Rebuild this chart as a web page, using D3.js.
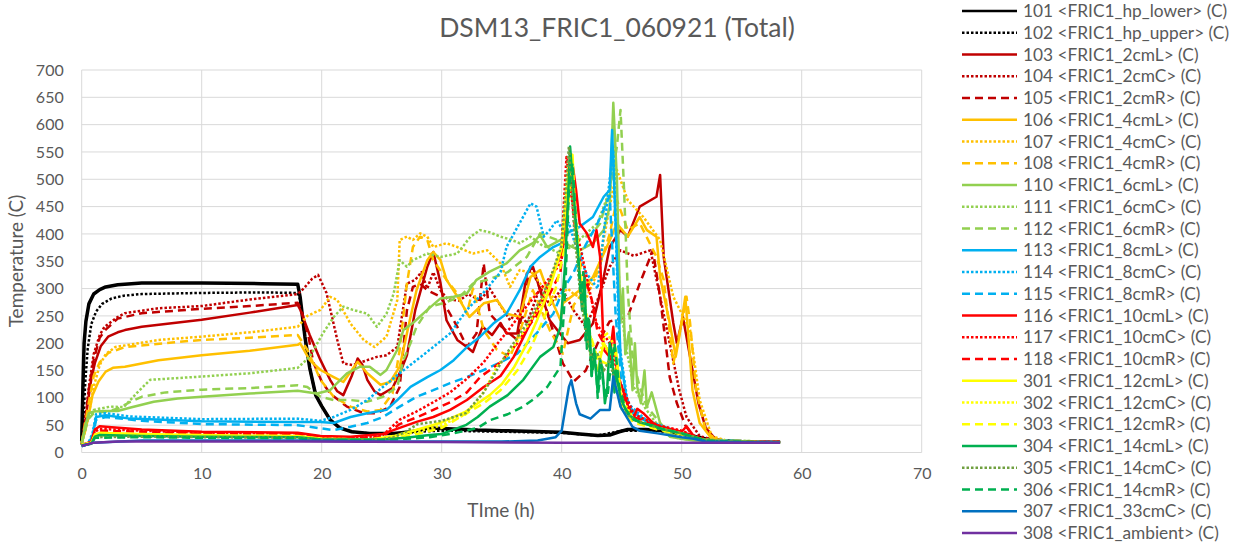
<!DOCTYPE html>
<html>
<head>
<meta charset="utf-8">
<script src="https://cdn.jsdelivr.net/npm/d3@7"></script>
<style>
  body { margin: 0; background: #fff; }
  text { font-family: Lato, "Open Sans", sans-serif; fill: #595959; }
</style>
</head>
<body>
<div id="chart"></div>
<script>
// chart size and plot box
const svgWidth = 1237;
const svgHeight = 543;
const plot = { left: 81.7, right: 921.7, top: 70, bottom: 452.5 };

// axis ticks
const xTicks = [0, 10, 20, 30, 40, 50, 60, 70];
const yTicks = [0, 50, 100, 150, 200, 250, 300, 350, 400, 450, 500, 550, 600, 650, 700];

// series values, [hour, temperature]
const s101 = [[0,20],[0.1,120],[0.2,200],[0.35,240],[0.6,272],[1,290],[1.5,298],[2,303],[3,307],[5,310],[10,310],[15,309],[18,308],[18.2,285],[18.6,212],[19,155],[19.5,105],[20,85],[20.7,60],[21.5,45],[22.5,38],[24,35],[26,35],[27.5,38],[29,45],[31,43],[33,41],[35,40],[37,39],[40,37],[41.5,34],[43,31],[44,32],[44.8,38],[45.5,42],[47,42],[48.5,40],[50,34],[51,30],[52,25],[53,22],[55,20],[58.2,19]];
const s102 = [[0,14],[0.15,60],[0.3,130],[0.5,190],[0.8,235],[1.2,258],[1.7,272],[2.5,282],[3.5,287],[5,290],[10,292],[15,293],[18,292],[18.2,280],[18.6,212],[19,155],[19.5,105],[20,85],[20.7,60],[21.5,45],[22.5,38],[24,35],[26,34],[28,38],[30,40],[35,38],[40,36],[43,31],[45,40],[48,40],[50,33],[52,24],[54,20],[58.2,19]];
const s103 = [[0,18],[0.2,40],[0.5,90],[0.8,135],[1.1,164],[1.6,195],[2.2,212],[3,220],[3.6,224],[5,230],[10,243],[14,256],[18,270],[18.2,262],[19,215],[19.9,169],[20.7,133],[21.3,112],[21.8,105],[22.5,140],[23,172],[23.4,160],[23.8,133],[24.4,112],[24.9,105],[25.9,118],[26.6,150],[27.1,178],[27.8,261],[28.8,340],[29.3,367],[29.9,310],[30.4,242],[31.3,206],[32.1,193],[32.6,184],[33.4,230],[34.2,215],[34.9,237],[35.4,218],[36.3,218],[37.1,328],[37.6,340],[38.2,297],[39,242],[40.1,211],[40.5,200],[41.5,206],[42.6,236],[43.5,321],[44,376],[44.9,407],[45.5,395],[46.5,450],[47.9,468],[48.2,508],[48.5,358],[49.3,237],[49.6,200],[50.1,248],[50.7,175],[51.4,90],[52,45],[52.8,25],[54,20],[58.2,19]];
const s104 = [[0,16],[0.3,60],[0.6,120],[1,180],[1.5,215],[1.9,230],[3,248],[3.6,255],[6.4,264],[10,268],[14,280],[18,290],[18.5,300],[19.2,318],[19.7,325],[20.4,292],[21.3,206],[21.8,163],[22.6,160],[23.8,169],[24.6,175],[25.4,178],[26.3,193],[26.8,266],[27.1,309],[27.8,316],[28.3,330],[28.8,300],[29.3,330],[29.9,297],[30.5,280],[31.5,278],[32.2,290],[33.2,278],[34,300],[34.6,279],[35.7,242],[36.4,260],[37.1,236],[38.2,303],[39,270],[40,300],[41,260],[42,230],[43,280],[44,340],[44.9,370],[46,360],[47.4,370],[48.2,285],[49,200],[49.8,114],[50.4,65],[51.5,30],[53,21],[58.2,19]];
const s105 = [[0,16],[0.3,60],[0.6,115],[1,170],[1.5,210],[2,225],[3,245],[5,255],[10,263],[14,268],[18,274],[18.3,262],[18.9,212],[19.3,165],[20,130],[20.7,108],[22.1,84],[23.5,72],[24.6,72],[25.7,84],[26.5,120],[27.1,260],[27.6,303],[28.2,309],[28.8,297],[29.9,285],[31.3,230],[32.1,193],[32.9,218],[33.5,346],[34,254],[35,230],[36.3,206],[37.4,340],[38.2,300],[39,242],[40.1,163],[41,130],[42,150],[43,200],[44,240],[45.5,248],[46.5,309],[47.6,370],[48.2,285],[49,138],[49.6,90],[50.3,50],[51,28],[52,21],[58.2,19]];
const s106 = [[0,18],[0.3,40],[0.6,70],[0.9,105],[1.4,130],[2,148],[2.6,155],[3.6,157],[6.4,169],[10,178],[14,186],[18,197],[18.2,200],[19,169],[19.9,151],[21,138],[21.8,129],[23,166],[23.8,145],[24.9,124],[25.7,129],[26.5,157],[27.1,218],[27.9,297],[28.8,352],[29.3,367],[29.9,352],[30.4,316],[31.5,279],[32.3,248],[33.5,273],[34.6,279],[35.4,254],[36.5,248],[37.4,321],[38.2,334],[38.8,297],[39.9,242],[40.1,273],[41.5,297],[42.6,321],[44,388],[44.6,419],[45.5,395],[46.5,431],[47.1,407],[47.9,395],[48.2,321],[49,237],[49.5,175],[49.8,212],[50.3,285],[50.6,200],[50.9,114],[51.5,54],[52.5,25],[54,20],[58.2,19]];
const s107 = [[0,17],[0.5,60],[1,120],[1.5,160],[2,180],[2.8,193],[6.4,206],[10,212],[14,220],[18,230],[18.8,250],[19.9,261],[20.7,285],[21.3,279],[22.4,236],[23.5,206],[24.4,193],[25.4,212],[26.3,279],[26.5,389],[27.1,395],[27.6,389],[28.2,401],[28.8,395],[29.3,376],[30.4,383],[31.3,376],[32.6,364],[33.8,370],[34.9,346],[35.7,303],[36.5,334],[37.6,328],[38.5,300],[39.5,280],[40.5,300],[41,290],[42,280],[43,330],[44,450],[44.6,517],[45.5,462],[46.8,431],[48.2,389],[49.3,285],[50.7,224],[51.5,96],[52.5,30],[54,20],[58.2,19]];
const s108 = [[0,17],[0.5,80],[1,140],[1.5,165],[2.2,182],[3.6,193],[7.8,202],[10,206],[14,210],[18,215],[18.3,205],[18.8,188],[19.9,133],[21,102],[22.4,84],[23.8,75],[24.9,78],[25.9,108],[26.5,188],[27.1,309],[27.6,376],[28.2,395],[28.8,389],[29.3,352],[30.4,316],[31.3,291],[32.1,254],[32.6,300],[33.5,224],[34.6,188],[35.7,175],[36.5,220],[37.6,297],[38.3,260],[39,224],[40.1,181],[41,270],[42,300],[43,330],[44,400],[44.6,462],[45.5,407],[46.5,420],[47.9,358],[48.5,316],[49.3,163],[50,237],[50.4,285],[50.7,237],[51.2,114],[52,40],[53,20],[58.2,19]];
const s110 = [[0,18],[0.3,50],[0.6,72],[1,75],[2,76],[3,76],[4,82],[6,93],[8,99],[10,102],[14,108],[18,113],[19.6,108],[20.7,114],[22.1,145],[23.2,157],[24,157],[24.9,142],[25.4,151],[26.3,188],[26.8,224],[27.6,237],[28.8,261],[29.9,282],[31,285],[32.1,291],[32.9,316],[34,331],[35.4,346],[36.5,370],[37.6,383],[38.2,398],[38.8,376],[39.9,389],[40.5,380],[41.5,370],[42.6,383],[43.5,407],[44,450],[44.3,640],[44.6,500],[44.9,237],[45.1,300],[45.3,180],[45.6,220],[45.9,114],[46.1,200],[46.3,120],[46.6,90],[46.9,150],[47.1,84],[47.5,110],[48.2,54],[49,29],[50,25],[51,22],[58.2,19]];
const s111 = [[0,16],[0.5,60],[1,78],[2.4,84],[3.5,83],[4.6,109],[5.7,133],[10,139],[14,145],[18,155],[19,175],[20.1,218],[21,248],[21.8,267],[22.6,261],[23.8,254],[24.6,230],[25.4,254],[26,291],[26.5,352],[27.1,340],[27.6,352],[28.8,364],[29.9,358],[31.3,364],[32.4,395],[33.2,407],[34,403],[34.9,395],[35.7,390],[36.5,383],[37.4,395],[38.3,380],[39.9,364],[41,380],[42,400],[43,420],[44,480],[44.4,560],[44.8,300],[45.3,200],[46,120],[47,80],[48,50],[49,30],[50,25],[58.2,19]];
const s112 = [[0,16],[0.5,60],[1,72],[2,75],[3,80],[4,92],[5,102],[7,110],[10,115],[14,118],[18,123],[18.8,120],[19.9,102],[21,96],[22.4,96],[23.8,93],[25.1,102],[26.3,120],[26.8,169],[27.4,200],[27.9,230],[29,267],[30.1,273],[31.5,285],[32.6,309],[33.8,316],[35.5,330],[37.1,358],[38.2,401],[39.5,390],[40.5,380],[41.5,390],[42.5,400],[43.2,419],[44,480],[44.6,560],[44.9,627],[45.2,480],[45.5,297],[45.9,175],[46.5,120],[47.1,84],[48.2,54],[49,35],[50,25],[58.2,19]];
const s113 = [[0,12],[0.5,15],[0.9,30],[1.2,65],[2,68],[4,62],[10,57],[18,56],[19.9,56],[21,54],[22.4,65],[23.8,72],[25.4,78],[26.3,96],[27.4,120],[28.8,138],[29.9,151],[31,169],[32.1,193],[33.2,212],[34.3,236],[35.4,254],[36.5,297],[37.4,340],[38.2,358],[39.3,376],[40,383],[40.4,401],[41.5,413],[42.6,431],[43.5,468],[44,480],[44.2,590],[44.6,358],[44.9,175],[45.5,84],[46.5,65],[48.2,47],[50,35],[51,30],[52,22],[54,20],[58.2,19]];
const s114 = [[0,12],[0.5,15],[0.9,35],[1.2,70],[2,72],[4,66],[10,61],[18,62],[19.9,58],[21,65],[22.4,78],[23.8,96],[25.1,120],[26.5,145],[27.9,169],[29.3,193],[30.7,218],[32.1,261],[33.5,293],[34.9,330],[35.4,376],[36.5,420],[37.4,456],[37.9,450],[38.5,395],[39,407],[39.6,425],[40.1,407],[40.6,420],[41,390],[42,330],[43,300],[44,500],[44.3,550],[44.8,200],[45.5,90],[47,60],[50,35],[52,22],[58.2,19]];
const s115 = [[0,12],[0.5,15],[0.9,28],[1.2,60],[2,65],[5,58],[10,52],[18,50],[19,47],[21,41],[22.4,47],[23.8,54],[25.1,65],[26.5,84],[27.9,102],[29.3,114],[30.7,127],[32.1,138],[33.5,151],[34.9,165],[36.3,181],[37.9,218],[39.3,254],[40.1,297],[41,330],[42,380],[43,420],[44,470],[44.5,250],[45,120],[46,70],[48,45],[50,35],[52,22],[58.2,19]];
const s116 = [[0,14],[0.8,20],[1.1,42],[1.5,48],[2.5,46],[5,42],[10,38],[18,36],[19.9,30],[22.4,29],[25.1,34],[26.5,45],[27.9,56],[29.3,65],[30.7,78],[32.1,96],[33.5,120],[34.9,140],[36,175],[37.1,224],[38.2,273],[39.3,328],[40.1,376],[40.5,486],[40.8,545],[41.2,480],[41.5,419],[42.1,401],[42.6,376],[42.9,407],[43.2,358],[43.5,188],[44,175],[44.3,230],[44.6,145],[45.1,114],[45.9,59],[46.3,80],[46.8,72],[47.6,54],[48.2,47],[50,38],[50.4,48],[51,30],[52,22],[54,20],[58.2,19]];
const s117 = [[0,14],[0.8,18],[1.1,38],[1.5,43],[5,40],[10,36],[18,35],[20,28],[22,27],[25,30],[26.5,60],[27.9,75],[29.3,92],[30.7,110],[32.1,135],[33.5,165],[34.6,198],[35.7,228],[36.8,260],[37.9,290],[39,320],[39.9,346],[40.4,541],[40.8,470],[41.3,400],[42,330],[42.9,236],[44,200],[44.9,127],[46,70],[48,50],[50,40],[52,22],[54,20],[58.2,19]];
const s118 = [[0,14],[0.8,18],[1.1,36],[1.5,40],[5,38],[10,34],[18,33],[20,27],[22,26],[25,28],[26.5,52],[28,65],[29.3,78],[30.7,92],[32.1,110],[33.2,138],[34.9,165],[36.3,200],[37.2,230],[37.9,250],[39,290],[39.9,330],[40.4,450],[40.7,520],[41,430],[41.5,350],[42.5,280],[43,220],[44,180],[44.9,110],[46,65],[48,48],[50,38],[52,22],[54,20],[58.2,19]];
const s301 = [[0,14],[0.8,18],[1.1,33],[1.5,36],[5,34],[10,32],[18,30],[20,25],[24,24],[26,30],[28,42],[30,55],[32,75],[34,105],[35,125],[36,155],[37,195],[38,245],[39,300],[40,375],[40.6,520],[40.9,545],[41.2,400],[41.6,300],[42,240],[42.5,170],[43,150],[43.5,200],[44,180],[44.5,190],[45,90],[46,60],[48,45],[50,35],[52,22],[54,20],[58.2,18]];
const s302 = [[0,14],[0.8,18],[1.1,31],[5,32],[10,30],[18,29],[20,25],[24,24],[26,28],[28,38],[30,50],[32,70],[33.5,110],[34.6,157],[36,193],[37.1,230],[38,262],[39,310],[40,380],[40.6,530],[41,450],[41.5,320],[42,260],[42.5,200],[43,170],[43.7,220],[44.3,200],[45,100],[46,60],[48,45],[50,34],[52,22],[54,20],[58.2,18]];
const s303 = [[0,14],[0.8,18],[1.1,30],[5,31],[10,29],[18,28],[20,24],[24,23],[26,26],[28,34],[30,45],[32.1,72],[33.5,90],[34.9,114],[36.3,150],[37.5,195],[38.5,245],[39.5,300],[40.3,380],[40.8,520],[41.2,430],[41.7,300],[42.2,230],[43,170],[44,160],[44.5,150],[45,80],[46,55],[48,42],[50,33],[52,22],[54,20],[58.2,18]];
const s304 = [[0,13],[0.8,16],[1.1,29],[1.5,32],[5,30],[10,29],[18,28],[20,24],[25,24],[27,27],[29,32],[30,34],[32,50],[33,65],[34,84],[35.5,105],[36.8,133],[38.2,175],[39.3,193],[39.9,230],[40.3,350],[40.5,450],[40.7,560],[41,470],[41.3,380],[41.7,260],[41.9,320],[42.1,190],[42.3,240],[42.5,140],[42.7,190],[43,110],[43.2,170],[43.4,150],[43.6,90],[43.8,120],[44,200],[44.2,180],[44.4,110],[44.5,150],[44.9,100],[45.5,70],[46.5,55],[47.5,50],[48.5,42],[50,35],[52,22],[54,20],[58.2,18]];
const s305 = [[0,13],[0.8,16],[1.1,28],[5,29],[10,28],[18,27],[20,24],[25,24],[26,28],[27,38],[28,52],[30,58],[32,72],[33.5,110],[35.4,181],[37.1,236],[38.2,279],[39,316],[40,380],[40.6,560],[41,420],[41.5,300],[42,220],[42.5,170],[43,180],[43.5,150],[44,170],[44.5,120],[45,80],[46,60],[48,45],[50,35],[52,22],[54,20],[58.2,18]];
const s306 = [[0,13],[0.8,16],[1.1,27],[5,28],[10,27],[18,26],[20,23],[25,23],[27,25],[29,28],[31,35],[33,45],[34,59],[35.5,70],[36.8,84],[37.8,100],[38.8,120],[39.9,157],[40.3,300],[40.6,480],[40.9,530],[41.2,420],[41.6,280],[41.8,330],[42,200],[42.2,250],[42.5,140],[42.8,180],[43,100],[43.3,160],[43.5,120],[43.8,100],[44,140],[44.4,200],[44.8,120],[45.3,80],[46,60],[48,45],[50,35],[52,22],[54,20],[58.2,18]];
const s307 = [[0,12],[1,18],[5,22],[18,22],[25,20],[30,20],[35,20],[38,22],[39.5,28],[40,40],[40.3,80],[40.6,120],[40.8,132],[41.2,90],[41.5,70],[42.4,62],[43.2,78],[44,78],[44.3,139],[44.9,84],[45.9,47],[46.5,40],[48,35],[50,28],[51,25],[52,20],[58.2,18]];
const s308 = [[0,12],[0.5,15],[1,18],[3,20],[18,20],[30,19],[40,18],[50,18],[58.2,18]];

// legend names, same order as the series
const seriesNames = ["101 <FRIC1_hp_lower> (C)", "102 <FRIC1_hp_upper> (C)", "103 <FRIC1_2cmL> (C)", "104 <FRIC1_2cmC> (C)", "105 <FRIC1_2cmR> (C)", "106 <FRIC1_4cmL> (C)", "107 <FRIC1_4cmC> (C)", "108 <FRIC1_4cmR> (C)", "110 <FRIC1_6cmL> (C)", "111 <FRIC1_6cmC> (C)", "112 <FRIC1_6cmR> (C)", "113 <FRIC1_8cmL> (C)", "114 <FRIC1_8cmC> (C)", "115 <FRIC1_8cmR> (C)", "116 <FRIC1_10cmL> (C)", "117 <FRIC1_10cmC> (C)", "118 <FRIC1_10cmR> (C)", "301 <FRIC1_12cmL> (C)", "302 <FRIC1_12cmC> (C)", "303 <FRIC1_12cmR> (C)", "304 <FRIC1_14cmL> (C)", "305 <FRIC1_14cmC> (C)", "306 <FRIC1_14cmR> (C)", "307 <FRIC1_33cmC> (C)", "308 <FRIC1_ambient> (C)"];
const seriesValues = [s101, s102, s103, s104, s105, s106, s107, s108, s110, s111, s112, s113, s114, s115, s116, s117, s118, s301, s302, s303, s304, s305, s306, s307, s308];

// styles per series
const seriesColors = ["#000000", "#000000", "#C00000", "#C00000", "#C00000", "#FFC000", "#FFC000", "#FFC000", "#92D050", "#92D050", "#92D050", "#00B0F0", "#00B0F0", "#00B0F0", "#FF0000", "#FF0000", "#FF0000", "#FFFF00", "#FFFF00", "#FFFF00", "#00B050", "#70A040", "#00B050", "#0070C0", "#7030A0"];
const seriesDash = ["solid", "dot", "solid", "dot", "dash", "solid", "dot", "dash", "solid", "dot", "dash", "solid", "dot", "dash", "solid", "dot", "dash", "solid", "dot", "dash", "solid", "dot", "dash", "solid", "solid"];
const dashArray = { solid: null, dot: "2.5,2", dash: "8,5" };

const svg = d3.select("#chart")
    .append("svg")
    .attr("width", svgWidth)
    .attr("height", svgHeight);

const x = d3.scaleLinear().domain([0, 70]).range([plot.left, plot.right]);
const y = d3.scaleLinear().domain([0, 700]).range([plot.bottom, plot.top]);

// gridlines
svg.append("g")
    .selectAll("line")
    .data(yTicks)
    .enter()
    .append("line")
    .attr("x1", plot.left).attr("x2", plot.right)
    .attr("y1", d => y(d)).attr("y2", d => y(d))
    .attr("stroke", "#d9d9d9")
    .attr("stroke-width", 1);

svg.append("g")
    .selectAll("line")
    .data(xTicks)
    .enter()
    .append("line")
    .attr("x1", d => x(d)).attr("x2", d => x(d))
    .attr("y1", plot.top).attr("y2", plot.bottom)
    .attr("stroke", "#d9d9d9")
    .attr("stroke-width", 1);

// axes (labels only, Excel style)
const yAxis = svg.append("g")
    .attr("transform", `translate(${plot.left},0)`)
    .call(d3.axisLeft(y).tickValues(yTicks).tickSize(0).tickPadding(18));
const xAxis = svg.append("g")
    .attr("transform", `translate(0,${plot.bottom})`)
    .call(d3.axisBottom(x).tickValues(xTicks).tickSize(0).tickPadding(15));
[yAxis, xAxis].forEach(a => {
    a.select(".domain").remove();
    a.selectAll("text")
        .attr("font-size", "16px")
        .attr("font-family", "Lato, 'Open Sans', sans-serif")
        .style("fill", "#595959");
});

// lines
const line = d3.line()
    .x(d => x(d[0]))
    .y(d => y(d[1]));

svg.append("g")
    .selectAll("path")
    .data(seriesValues)
    .enter()
    .append("path")
    .attr("d", d => line(d))
    .attr("fill", "none")
    .attr("stroke", (d, i) => seriesColors[i])
    .attr("stroke-width", (d, i) => i == 0 ? 3.5 : 2.5)
    .attr("stroke-linejoin", "round")
    .attr("stroke-dasharray", (d, i) => dashArray[seriesDash[i]]);

// titles
svg.append("text")
    .text("DSM13_FRIC1_060921 (Total)")
    .attr("x", 617)
    .attr("y", 37)
    .attr("text-anchor", "middle")
    .attr("font-size", "26.5px");

svg.append("text")
    .text("Temperature (C)")
    .attr("transform", `translate(23,261) rotate(-90)`)
    .attr("text-anchor", "middle")
    .attr("font-size", "19px");

svg.append("text")
    .text("TIme (h)")
    .attr("x", 501)
    .attr("y", 517)
    .attr("text-anchor", "middle")
    .attr("font-size", "19px");

// legend
const legend = svg.append("g")
    .selectAll("g")
    .data(seriesNames)
    .enter()
    .append("g")
    .attr("transform", (d, i) => `translate(962,${11 + i * 21.75})`);

legend.append("line")
    .attr("x1", 0).attr("x2", 55)
    .attr("stroke", (d, i) => seriesColors[i])
    .attr("stroke-width", 2.5)
    .attr("stroke-dasharray", (d, i) => dashArray[seriesDash[i]]);

legend.append("text")
    .text(d => d)
    .attr("x", 61)
    .attr("y", 6)
    .attr("font-size", "17.3px");
</script>
</body>
</html>
